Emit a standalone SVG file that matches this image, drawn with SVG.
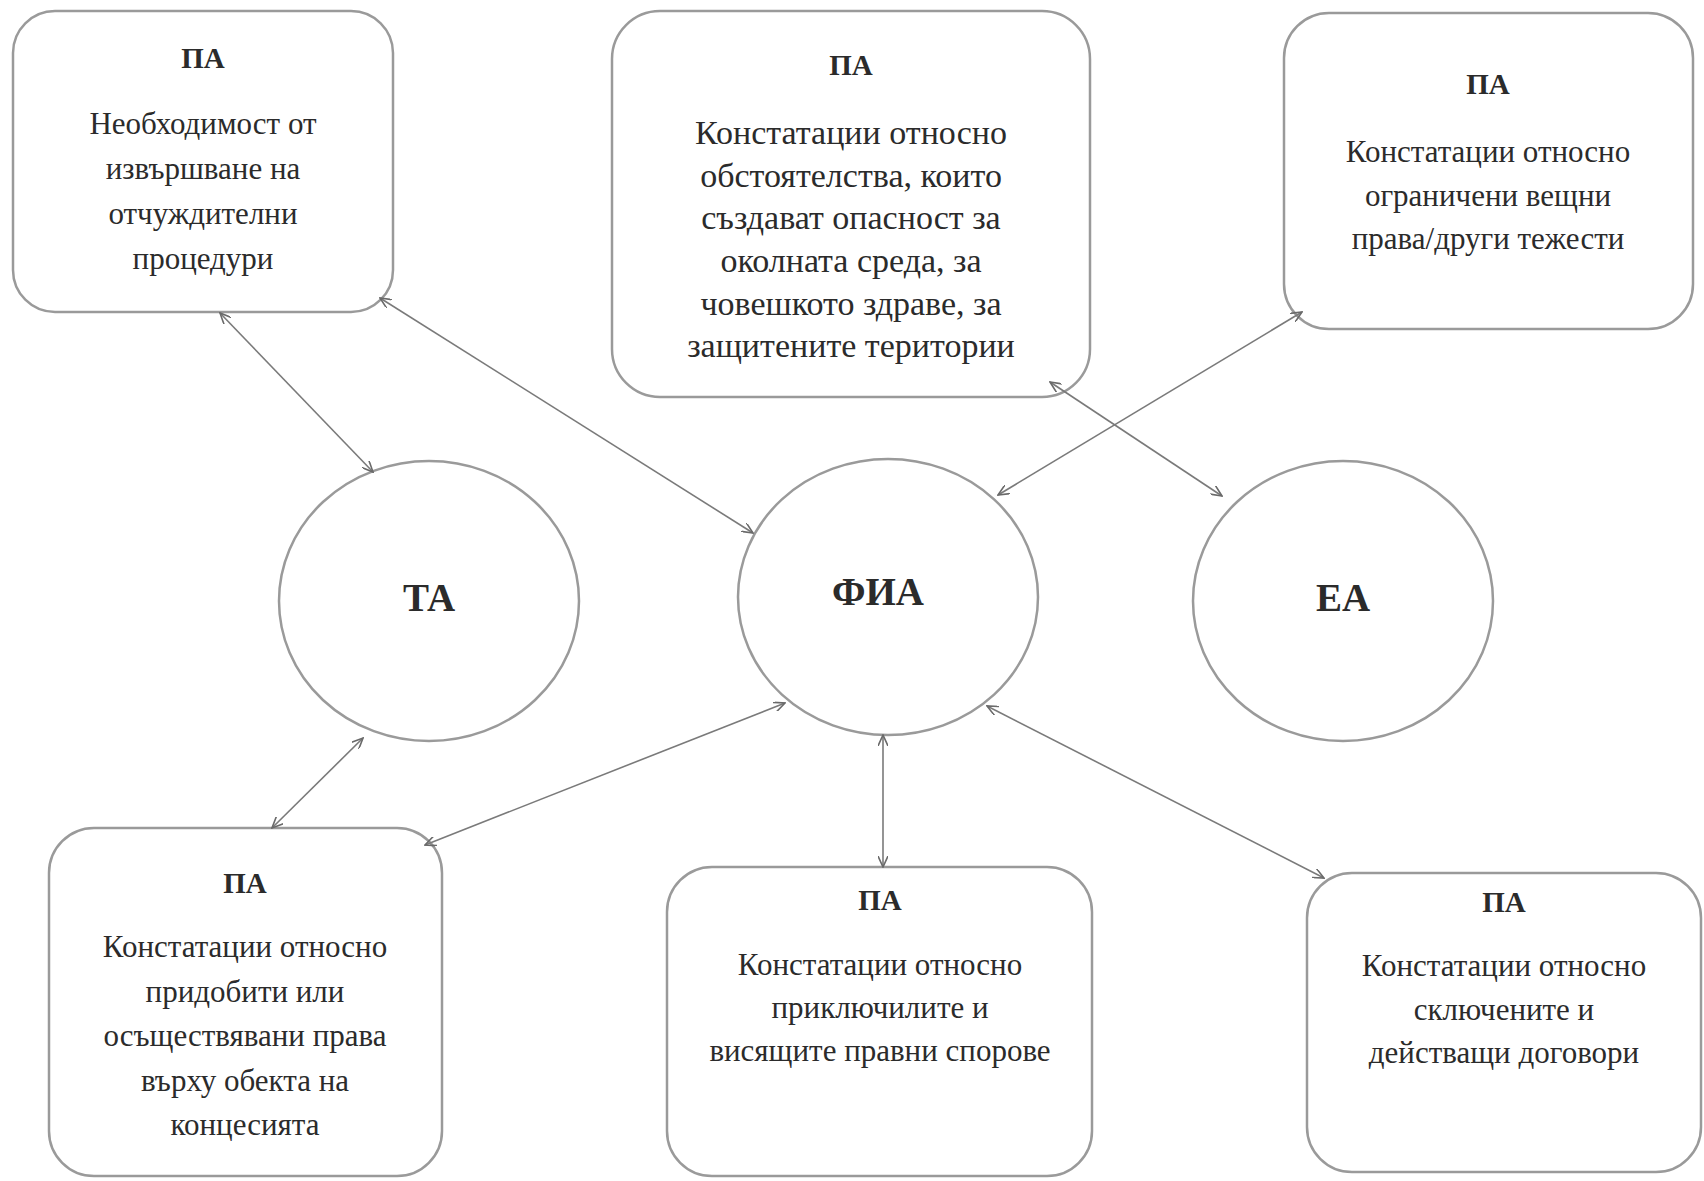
<svg xmlns="http://www.w3.org/2000/svg" width="1704" height="1181" viewBox="0 0 1704 1181">
<style>
.box{fill:#fff;stroke:#9a9a9a;stroke-width:2.5}
.circ{fill:#fff;stroke:#9a9a9a;stroke-width:2.5}
.t{font-family:"Liberation Serif","Times New Roman",serif;font-size:31px;fill:#2b2b2b;text-anchor:middle}
.t2{font-size:34px}
.h{font-family:"Liberation Serif","Times New Roman",serif;font-size:29px;font-weight:bold;fill:#2b2b2b;text-anchor:middle}
.c{font-family:"Liberation Serif","Times New Roman",serif;font-size:39px;font-weight:bold;fill:#2b2b2b;text-anchor:middle}
.ln{stroke:#7a7a7a;stroke-width:1.6;fill:none;marker-start:url(#ah);marker-end:url(#ah)}
</style>
<defs>
<marker id="ah" viewBox="0 0 12 10" refX="11" refY="5" markerWidth="12" markerHeight="10" markerUnits="userSpaceOnUse" orient="auto-start-reverse">
<path d="M0,0 L11,5 L0,10" fill="none" stroke="#6a6a6a" stroke-width="1.6"/>
</marker>
</defs>
<rect width="1704" height="1181" fill="#fff"/>
<g id="box1">
<rect class="box" x="13" y="11" width="380" height="301" rx="42"/>
<text class="h" x="203" y="68">ПА</text>
<text class="t" x="203" y="134">Необходимост от</text>
<text class="t" x="203" y="179">извършване на</text>
<text class="t" x="203" y="224">отчуждителни</text>
<text class="t" x="203" y="269">процедури</text>
</g>
<g id="box2">
<rect class="box" x="612" y="11" width="478" height="386" rx="48"/>
<text class="h" x="851" y="75">ПА</text>
<text class="t t2" x="851" y="144">Констатации относно</text>
<text class="t t2" x="851" y="187">обстоятелства, които</text>
<text class="t t2" x="851" y="229">създават опасност за</text>
<text class="t t2" x="851" y="272">околната среда, за</text>
<text class="t t2" x="851" y="315">човешкото здраве, за</text>
<text class="t t2" x="851" y="357">защитените територии</text>
</g>
<g id="box3">
<rect class="box" x="1284" y="13" width="409" height="316" rx="45"/>
<text class="h" x="1488" y="94">ПА</text>
<text class="t" x="1488" y="162">Констатации относно</text>
<text class="t" x="1488" y="206">ограничени вещни</text>
<text class="t" x="1488" y="249">права/други тежести</text>
</g>
<g id="ta">
<ellipse class="circ" cx="429" cy="601" rx="150" ry="140"/>
<text class="c" x="429" y="611">ТА</text>
</g>
<g id="fia">
<ellipse class="circ" cx="888" cy="597" rx="150" ry="138"/>
<text class="c" x="878" y="605">ФИА</text>
</g>
<g id="ea">
<ellipse class="circ" cx="1343" cy="601" rx="150" ry="140"/>
<text class="c" x="1343" y="611">ЕА</text>
</g>
<g id="box4">
<rect class="box" x="49" y="828" width="393" height="348" rx="45"/>
<text class="h" x="245" y="893">ПА</text>
<text class="t" x="245" y="957">Констатации относно</text>
<text class="t" x="245" y="1002">придобити или</text>
<text class="t" x="245" y="1046">осъществявани права</text>
<text class="t" x="245" y="1091">върху обекта на</text>
<text class="t" x="245" y="1135">концесията</text>
</g>
<g id="box5">
<rect class="box" x="667" y="867" width="425" height="309" rx="45"/>
<text class="h" x="880" y="910">ПА</text>
<text class="t" x="880" y="975">Констатации относно</text>
<text class="t" x="880" y="1018">приключилите и</text>
<text class="t" x="880" y="1061">висящите правни спорове</text>
</g>
<g id="box6">
<rect class="box" x="1307" y="873" width="394" height="299" rx="45"/>
<text class="h" x="1504" y="912">ПА</text>
<text class="t" x="1504" y="976">Констатации относно</text>
<text class="t" x="1504" y="1020">сключените и</text>
<text class="t" x="1504" y="1063">действащи договори</text>
</g>
<g id="connectors">
<line class="ln" x1="220" y1="313" x2="373" y2="472"/>
<line class="ln" x1="380" y1="298" x2="753" y2="533"/>
<line class="ln" x1="1302" y1="312" x2="998" y2="495"/>
<line class="ln" x1="1050" y1="382" x2="1222" y2="496"/>
<line class="ln" x1="363" y1="738" x2="272" y2="828"/>
<line class="ln" x1="785" y1="703" x2="425" y2="845"/>
<line class="ln" x1="883" y1="735" x2="883" y2="867"/>
<line class="ln" x1="987" y1="706" x2="1324" y2="878"/>
</g>
</svg>
